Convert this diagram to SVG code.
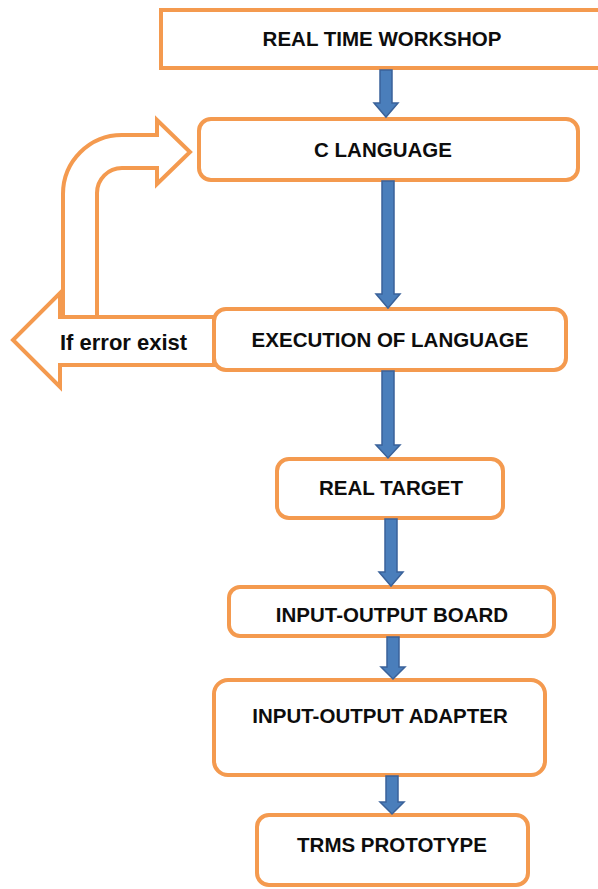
<svg xmlns="http://www.w3.org/2000/svg" width="598" height="889" viewBox="0 0 598 889">
  <style>
    .box { fill: #ffffff; stroke: #F49A4F; stroke-width: 4; }
    .loop { fill: #ffffff; stroke: #F49A4F; stroke-width: 4; stroke-linejoin: miter; }
    .lbl { font-family: "Liberation Sans", Arial, sans-serif; font-weight: bold; font-size: 20.5px; fill: #0d0d0d; text-anchor: middle; }
    .note { font-family: "Liberation Sans", Arial, sans-serif; font-weight: bold; font-size: 22px; fill: #0d0d0d; }
    .flow { fill: #4A7EBB; stroke: #3A629A; stroke-width: 1.5; stroke-linejoin: miter; }
  </style>
  <rect width="598" height="889" fill="#ffffff"/>

  <!-- error feedback loop: left arrow out of execution, bent arrow back to C language -->
  <g id="error-loop">
    <polygon class="loop" points="214,317 60,317 60,293 13,340 60,387 60,365 214,365"/>
    <path class="loop" d="M63,317 V194 A59,59 0 0 1 122,135 H157 V120 L190,152 L157,184 V168 H122 A25,25 0 0 0 97,193 V317 Z"/>
    <text class="note" x="60" y="350">If error exist</text>
  </g>

  <g id="real-time-workshop">
    <rect class="box" x="161" y="10" width="445" height="58"/>
    <text class="lbl" x="382" y="46">REAL TIME WORKSHOP</text>
  </g>

  <g id="c-language">
    <rect class="box" x="199" y="119" width="379" height="61" rx="12"/>
    <text class="lbl" x="383" y="157">C LANGUAGE</text>
  </g>

  <g id="execution">
    <rect class="box" x="214" y="309" width="352" height="61" rx="12"/>
    <text class="lbl" x="390" y="347">EXECUTION OF LANGUAGE</text>
  </g>

  <g id="real-target">
    <rect class="box" x="277" y="459" width="226" height="59" rx="12"/>
    <text class="lbl" x="391" y="495">REAL TARGET</text>
  </g>

  <g id="io-board">
    <rect class="box" x="229" y="587" width="325" height="49" rx="11"/>
    <text class="lbl" x="392" y="622">INPUT-OUTPUT BOARD</text>
  </g>

  <g id="io-adapter">
    <rect class="box" x="214" y="680" width="331" height="95" rx="14"/>
    <text class="lbl" x="380" y="723">INPUT-OUTPUT ADAPTER</text>
  </g>

  <g id="trms-prototype">
    <rect class="box" x="257" y="815" width="271" height="70" rx="12"/>
    <text class="lbl" x="392" y="852">TRMS PROTOTYPE</text>
  </g>

  <!-- downward flow arrows -->
  <g id="connectors">
    <path class="flow" d="M380,70 V103 H374 L386,117 L398,103 H392 V70 Z"/>
    <path class="flow" d="M382,181 V294 H376 L388,308 L400,294 H394 V181 Z"/>
    <path class="flow" d="M382,371 V445 H376 L388,458 L400,445 H394 V371 Z"/>
    <path class="flow" d="M385,519 V572 H379 L391,586 L403,572 H397 V519 Z"/>
    <path class="flow" d="M387,637 V667 H381 L393,679 L405,667 H399 V637 Z"/>
    <path class="flow" d="M386,776 V802 H380 L392,814 L404,802 H398 V776 Z"/>
  </g>
</svg>
